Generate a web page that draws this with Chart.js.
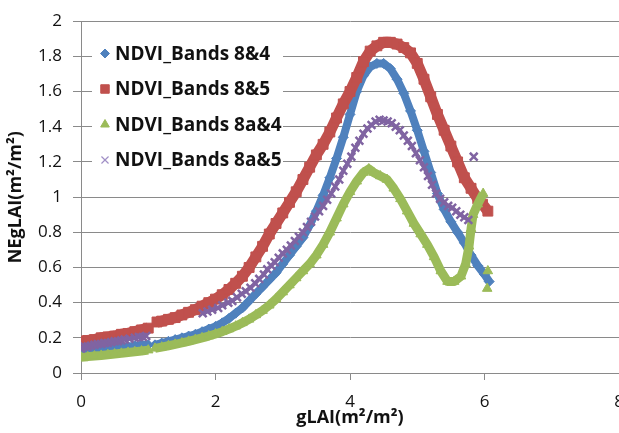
<!DOCTYPE html>
<html>
<head>
<meta charset="utf-8">
<script src="https://cdn.jsdelivr.net/npm/chart.js@4.4.1/dist/chart.umd.min.js"></script>
<style>
  html, body { margin: 0; padding: 0; background: #fff; overflow: hidden; }
  #wrap { width: 619px; height: 433px; overflow: hidden; }
</style>
</head>
<body>
<div id="wrap"><canvas id="lai" width="660" height="433"></canvas></div>
<script>
// [gLAI, NEgLAI] pairs; null y = gap in the band
const bands84 = [
  [0, 0.12], [0.1, 0.125], [0.2, 0.13], [0.3, 0.135], [0.4, 0.14], [0.5, 0.145],
  [0.6, 0.15], [0.7, 0.15], [0.8, 0.155], [0.9, 0.16], [1.0, 0.16], [1.05, null],
  [1.1, 0.16], [1.2, 0.17], [1.3, 0.18], [1.4, 0.19], [1.5, 0.2], [1.6, 0.21],
  [1.7, 0.22], [1.8, 0.235], [1.9, 0.25], [2.0, 0.265], [2.1, 0.285], [2.2, 0.31],
  [2.3, 0.34], [2.4, 0.37], [2.5, 0.41], [2.6, 0.45], [2.7, 0.49], [2.8, 0.53],
  [2.9, 0.57], [3.0, 0.62], [3.1, 0.67], [3.2, 0.72], [3.3, 0.77], [3.4, 0.84],
  [3.5, 0.92], [3.6, 1.01], [3.7, 1.11], [3.8, 1.22], [3.9, 1.34], [4.0, 1.47],
  [4.1, 1.6], [4.2, 1.69], [4.3, 1.74], [4.4, 1.76], [4.5, 1.76], [4.6, 1.73],
  [4.7, 1.67], [4.8, 1.59], [4.9, 1.49], [5.0, 1.38], [5.1, 1.26], [5.2, 1.14],
  [5.3, 1.02], [5.4, 0.93], [5.5, 0.86], [5.6, 0.8], [5.7, 0.74], [5.8, 0.67],
  [5.9, 0.61], [6.0, 0.56], [6.07, 0.52]
];
const bands85 = [
  [0, 0.18], [0.1, 0.185], [0.2, 0.19], [0.3, 0.2], [0.4, 0.205], [0.5, 0.21],
  [0.6, 0.22], [0.7, 0.225], [0.8, 0.235], [0.9, 0.245], [1.0, 0.255], [1.07, null],
  [1.13, 0.29], [1.2, 0.295], [1.3, 0.305], [1.4, 0.315], [1.5, 0.33], [1.6, 0.345],
  [1.7, 0.36], [1.8, 0.38], [1.9, 0.4], [2.0, 0.42], [2.1, 0.445], [2.2, 0.475],
  [2.3, 0.51], [2.4, 0.55], [2.5, 0.6], [2.6, 0.66], [2.7, 0.72], [2.8, 0.79],
  [2.9, 0.85], [3.0, 0.91], [3.1, 0.97], [3.2, 1.03], [3.3, 1.1], [3.4, 1.17],
  [3.5, 1.24], [3.6, 1.3], [3.7, 1.37], [3.8, 1.45], [3.9, 1.53], [4.0, 1.6],
  [4.1, 1.68], [4.2, 1.77], [4.3, 1.83], [4.4, 1.86], [4.5, 1.88], [4.6, 1.88],
  [4.7, 1.87], [4.8, 1.85], [4.9, 1.82], [5.0, 1.76], [5.1, 1.67], [5.2, 1.57],
  [5.3, 1.47], [5.4, 1.38], [5.5, 1.29], [5.6, 1.2], [5.7, 1.11], [5.8, 1.05],
  [5.9, 0.99], [5.97, 0.96], [6.05, 0.92]
];
const bands8a4 = [
  [0, 0.09], [0.1, 0.093], [0.2, 0.097], [0.3, 0.1], [0.4, 0.104], [0.5, 0.108],
  [0.6, 0.112], [0.7, 0.117], [0.8, 0.121], [0.9, 0.125], [1.0, 0.13], [1.05, null],
  [1.1, 0.14], [1.2, 0.147], [1.3, 0.155], [1.4, 0.163], [1.5, 0.171], [1.6, 0.18],
  [1.7, 0.19], [1.8, 0.2], [1.9, 0.21], [2.0, 0.222], [2.1, 0.235], [2.2, 0.25],
  [2.3, 0.266], [2.4, 0.285], [2.5, 0.305], [2.6, 0.33], [2.7, 0.355], [2.8, 0.385],
  [2.9, 0.42], [3.0, 0.46], [3.1, 0.5], [3.2, 0.54], [3.3, 0.58], [3.4, 0.62],
  [3.5, 0.67], [3.6, 0.73], [3.7, 0.8], [3.8, 0.88], [3.9, 0.96], [4.0, 1.03],
  [4.1, 1.09], [4.2, 1.14], [4.28, 1.16], [4.35, 1.14], [4.45, 1.12], [4.55, 1.1],
  [4.65, 1.05], [4.75, 0.99], [4.85, 0.92], [4.95, 0.85], [5.05, 0.79], [5.15, 0.73],
  [5.25, 0.66], [5.35, 0.58], [5.45, 0.52], [5.55, 0.52], [5.65, 0.55], [5.72, 0.62],
  [5.77, 0.72], [5.8, 0.82], [5.83, 0.9], [5.9, 0.96], [5.98, 1.02], [6.01, null],
  [6.05, 0.58], [6.05, null], [6.04, 0.48]
];
const bands8a5 = [
  [0, 0.14], [0.05, 0.15], [0.1, 0.15], [0.15, 0.155], [0.2, 0.16], [0.25, 0.165],
  [0.3, 0.165], [0.35, 0.17], [0.4, 0.17], [0.45, 0.175], [0.5, 0.18], [0.55, 0.18],
  [0.6, 0.185], [0.65, 0.19], [0.72, 0.195], [0.8, 0.2], [0.86, 0.205], [0.92, 0.205],
  [0.97, 0.21], [1.4, null],
  [1.81, 0.34], [1.88, 0.35], [1.95, 0.36], [2.04, 0.37], [2.1, 0.385], [2.19, 0.4],
  [2.25, 0.41], [2.32, 0.43], [2.39, 0.45], [2.45, 0.465], [2.52, 0.485], [2.59, 0.51],
  [2.65, 0.535], [2.72, 0.56], [2.77, 0.59], [2.83, 0.61], [2.88, 0.63], [2.94, 0.655],
  [3.0, 0.68], [3.06, 0.7], [3.12, 0.725], [3.18, 0.75], [3.24, 0.775], [3.3, 0.8],
  [3.36, 0.83], [3.42, 0.86], [3.48, 0.89], [3.54, 0.92], [3.6, 0.95], [3.66, 0.985],
  [3.72, 1.02], [3.78, 1.06], [3.84, 1.1], [3.9, 1.15], [3.96, 1.19], [4.02, 1.23],
  [4.08, 1.28], [4.14, 1.32], [4.2, 1.36], [4.26, 1.39], [4.32, 1.41], [4.38, 1.43],
  [4.44, 1.44], [4.5, 1.435], [4.56, 1.43], [4.62, 1.42], [4.68, 1.4], [4.74, 1.38],
  [4.8, 1.35], [4.86, 1.32], [4.92, 1.29], [4.98, 1.25], [5.04, 1.21], [5.1, 1.17],
  [5.16, 1.12], [5.22, 1.07], [5.28, 1.02], [5.34, 0.99], [5.4, 0.97], [5.46, 0.95],
  [5.52, 0.94], [5.58, 0.92], [5.64, 0.9], [5.7, 0.885], [5.76, 0.87], [5.8, null],
  [5.84, 1.23]
];
const seriesNames = ['NDVI_Bands 8&4', 'NDVI_Bands 8&5', 'NDVI_Bands 8a&4', 'NDVI_Bands 8a&5'];
const xTitle = 'gLAI(m\u00B2/m\u00B2)';
const yTitle = 'NEgLAI(m\u00B2/m\u00B2)';

const toXY = pairs => pairs.map(([x, y]) => ({x, y}));

function band(label, pairs, color, style, radius, lineWidth, pointBorder, order) {
  return {
    label,
    data: toXY(pairs),
    showLine: true,
    borderColor: color,
    backgroundColor: color,
    borderWidth: lineWidth,
    borderJoinStyle: 'round',
    pointStyle: style,
    pointRadius: radius,
    pointBackgroundColor: color,
    pointBorderColor: color,
    pointBorderWidth: pointBorder,
    order
  };
}

// draws the legend box inside the plot, top left, like the Excel original
const insideLegend = {
  id: 'insideLegend',
  beforeDatasetsDraw(chart) {
    const ctx = chart.ctx;
    ctx.save();
    ctx.fillStyle = '#fff';
    ctx.fillRect(92, 36, 191, 141);
    const marks = [
      {pointStyle: 'rectRot', radius: 4.5, borderWidth: 1},
      {pointStyle: 'rect', radius: 6, borderWidth: 1},
      {pointStyle: 'triangle', radius: 5, borderWidth: 1},
      {pointStyle: 'crossRot', radius: 5, borderWidth: 1.2}
    ];
    chart.data.datasets.forEach((ds, i) => {
      const y = 53.5 + i * 35.5;
      const col = i === 3 ? '#a08fc6' : ds.borderColor;
      ctx.fillStyle = col;
      ctx.strokeStyle = col;
      ctx.lineWidth = marks[i].borderWidth;
      Chart.helpers.drawPoint(ctx, {rotation: 0, ...marks[i]}, 105, y);
      ctx.fillStyle = '#111';
      ctx.font = 'bold 19px "Open Sans"';
      ctx.textBaseline = 'middle';
      ctx.textAlign = 'left';
      ctx.fillText(ds.label, 115, y + 1);
    });
    ctx.restore();
  }
};

const gridGray = '#8a8a8a';

new Chart(document.getElementById('lai'), {
  type: 'scatter',
  data: {
    datasets: [
      band(seriesNames[0], bands84, '#4F81BD', 'rectRot', 5, 8, 1, 4),
      band(seriesNames[1], bands85, '#C0504D', 'rect', 7, 11, 1, 3),
      band(seriesNames[2], bands8a4, '#9BBB59', 'triangle', 5.5, 9, 1, 2),
      band(seriesNames[3], bands8a5, '#8064A2', 'crossRot', 5.5, 4, 2.5, 1)
    ]
  },
  options: {
    responsive: false,
    devicePixelRatio: 1,
    animation: false,
    layout: {padding: {top: 18, right: 41, left: 0, bottom: 0}},
    plugins: {
      legend: {display: false},
      tooltip: {enabled: false}
    },
    scales: {
      x: {
        type: 'linear',
        min: 0,
        max: 8,
        afterFit: s => { s.height = 60; },
        ticks: {
          stepSize: 2,
          padding: 12,
          color: '#111',
          font: {family: 'Open Sans', size: 17}
        },
        grid: {drawOnChartArea: false, drawTicks: true, tickLength: 7, color: gridGray},
        border: {color: gridGray},
        title: {
          display: true,
          text: xTitle,
          color: '#111',
          font: {family: 'Open Sans', size: 18, weight: 'bold'},
          padding: {top: 0, bottom: 4}
        }
      },
      y: {
        min: 0,
        max: 2,
        afterFit: s => { s.width = 81; },
        ticks: {
          stepSize: 0.2,
          padding: 11,
          color: '#111',
          font: {family: 'Open Sans', size: 17},
          callback: v => String(Math.round(v * 10) / 10)
        },
        grid: {color: gridGray, tickLength: 8},
        border: {color: gridGray},
        title: {
          display: true,
          text: yTitle,
          color: '#111',
          font: {family: 'Open Sans', size: 18, weight: 'bold'},
          padding: {top: 5, bottom: 0}
        }
      }
    }
  },
  plugins: [insideLegend]
});
</script>
</body>
</html>
